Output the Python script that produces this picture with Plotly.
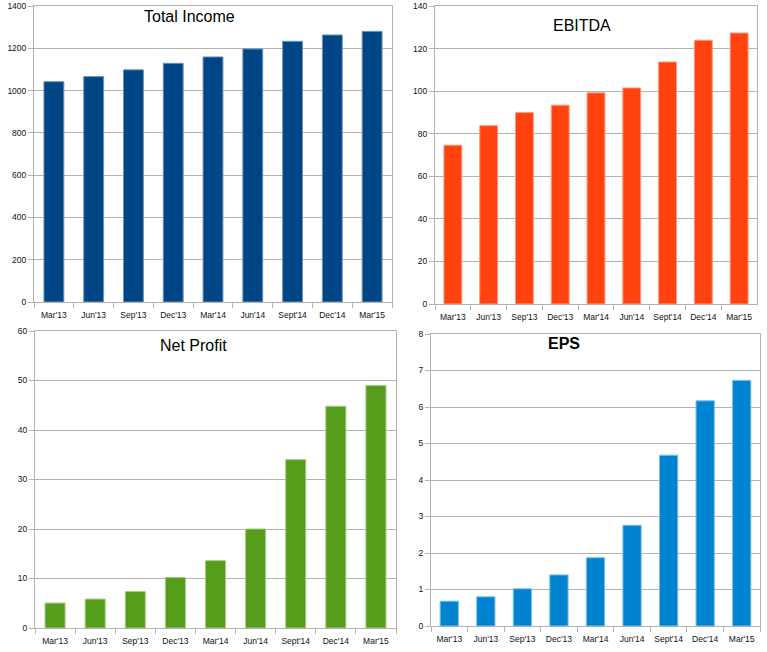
import plotly.graph_objects as go

categories = ["Mar'13", "Jun'13", "Sep'13", "Dec'13", "Mar'14", "Jun'14", "Sept'14", "Dec'14", "Mar'15"]
total_income = [1042, 1066, 1098, 1129, 1159, 1197, 1233, 1263, 1280]
ebitda = [74.6, 83.8, 89.9, 93.4, 99.2, 101.5, 113.7, 123.9, 127.3]
net_profit = [5.04, 5.85, 7.39, 10.2, 13.6, 20.0, 34.0, 44.8, 49.0]
eps = [0.68, 0.80, 1.02, 1.40, 1.87, 2.76, 4.68, 6.17, 6.73]

W, H = 767, 652

panels = [
    dict(name="Total Income", data=total_income, color="#004586", edge="#6f93b8",
         x=(34, 392), y=(6, 302), rng=1400, dtick=200, title_xy=(189, 17), bold=False),
    dict(name="EBITDA", data=ebitda, color="#ff420e", edge="#ff9b80",
         x=(435, 757), y=(6, 304), rng=140, dtick=20, title_xy=(582, 26), bold=False),
    dict(name="Net Profit", data=net_profit, color="#579d1c", edge="#a6cc88",
         x=(35, 396), y=(331, 628), rng=60, dtick=10, title_xy=(193, 345), bold=False),
    dict(name="EPS", data=eps, color="#0084d1", edge="#7fbfe6",
         x=(431, 760), y=(334, 626), rng=8, dtick=1, title_xy=(564, 343), bold=True),
]

fig = go.Figure()
font_family = "Liberation Sans, Arial, sans-serif"
annotations = []
for i, p in enumerate(panels, start=1):
    xa = "x" if i == 1 else f"x{i}"
    ya = "y" if i == 1 else f"y{i}"
    fig.add_trace(go.Bar(
        x=categories, y=p["data"], xaxis=xa, yaxis=ya, width=0.5,
        marker=dict(color=p["color"], line=dict(color=p["edge"], width=1)),
        showlegend=False,
    ))
    axis_common = dict(
        showline=True, linecolor="#b3b3b3", linewidth=1, mirror=True,
        ticks="outside", tickcolor="#b3b3b3", ticklen=5, tickwidth=1,
        tickfont=dict(family=font_family, size=8.5, color="#111111"),
        automargin=False, fixedrange=True,
    )
    fig.update_layout(**{
        ("xaxis" if i == 1 else f"xaxis{i}"): dict(
            domain=[p["x"][0] / W, p["x"][1] / W], anchor=ya,
            type="category", tickson="boundaries", showgrid=False,
            tickangle=0, ticklabelstandoff=5, **axis_common),
        ("yaxis" if i == 1 else f"yaxis{i}"): dict(
            domain=[1 - p["y"][1] / H, 1 - p["y"][0] / H], anchor=xa,
            range=[0, p["rng"]], dtick=p["dtick"], tick0=0,
            showgrid=True, gridcolor="#b3b3b3", gridwidth=1, zeroline=False,
            **axis_common),
    })
    title_text = f"<b>{p['name']}</b>" if p["bold"] else p["name"]
    annotations.append(dict(
        text=title_text, x=p["title_xy"][0] / W, y=1 - p["title_xy"][1] / H,
        xref="paper", yref="paper", xanchor="center", yanchor="middle",
        showarrow=False, font=dict(family=font_family, size=16, color="#000000"),
    ))

fig.update_layout(
    width=W, height=H, margin=dict(l=0, r=0, t=0, b=0, autoexpand=False),
    paper_bgcolor="white", plot_bgcolor="white",
    annotations=annotations, bargap=0.5,
)

fig.write_html(
    "out.html",
    config={"displayModeBar": False, "staticPlot": True},
    post_script="document.body.style.margin='0';document.body.style.overflow='hidden';",
)
